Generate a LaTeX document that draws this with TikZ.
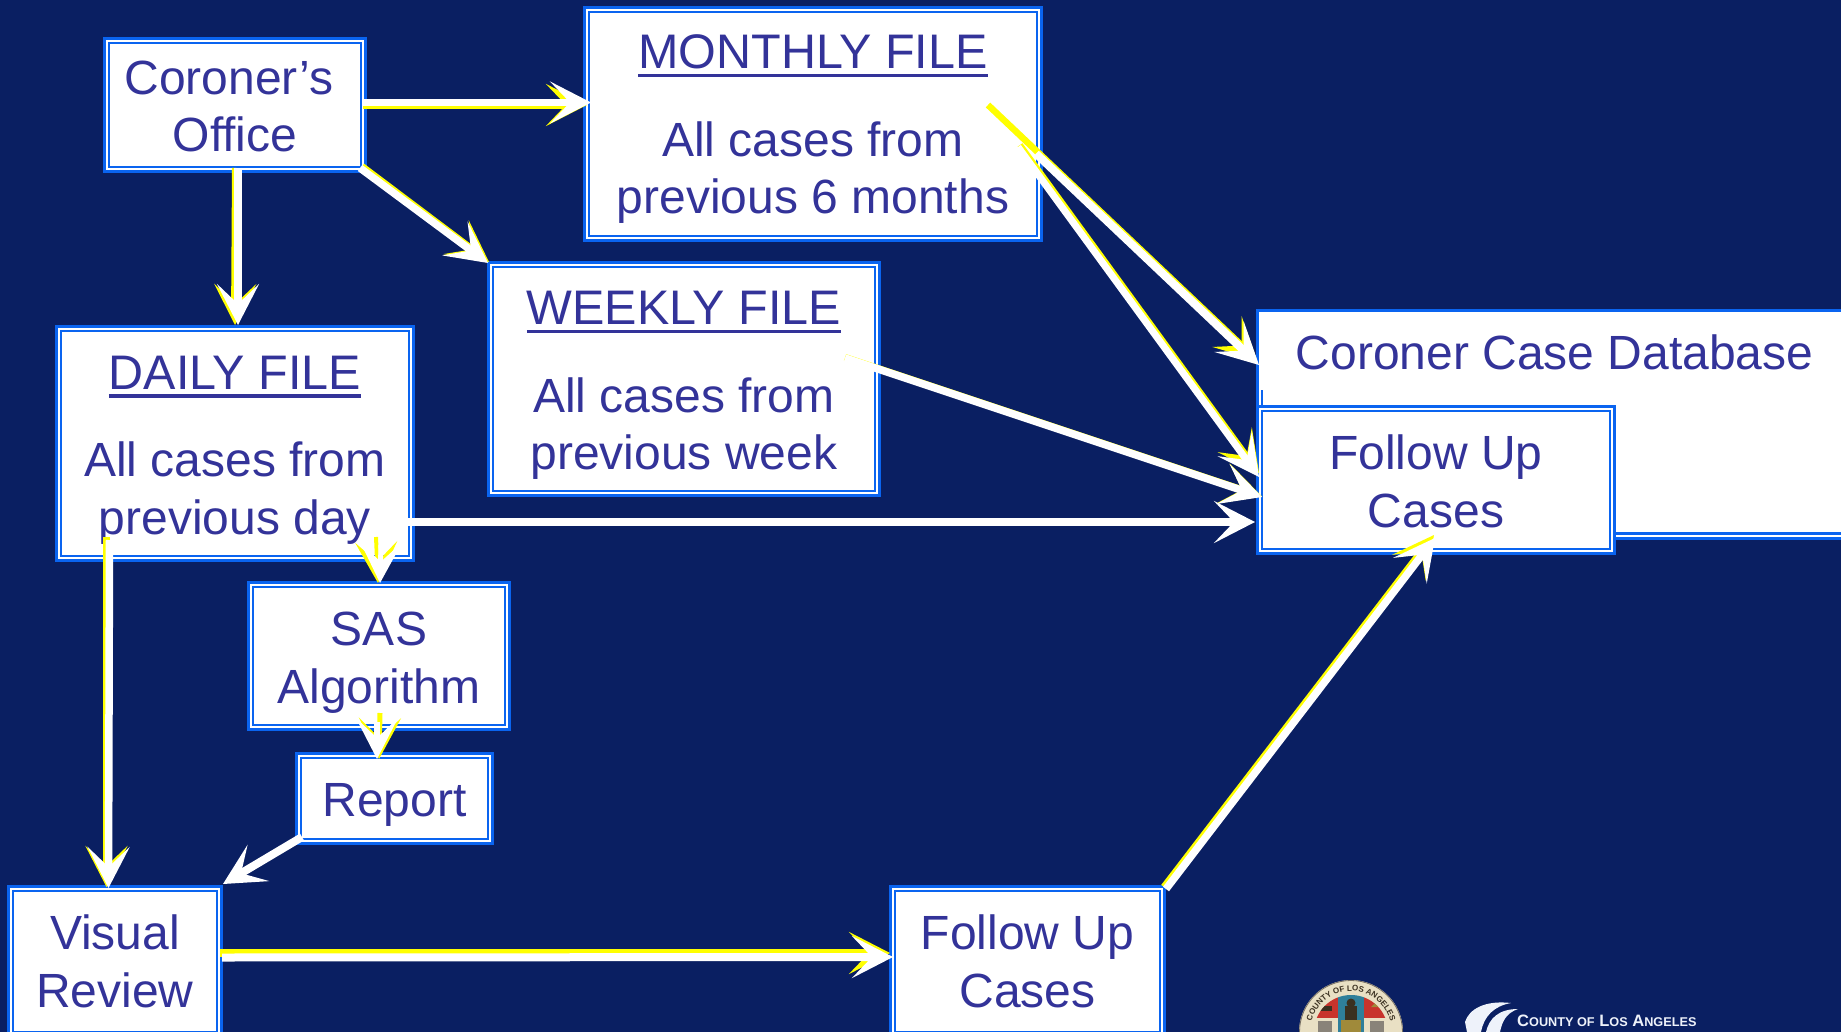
\documentclass[tikz,border=0pt]{standalone}
\usepackage{fontspec}
\setmainfont{Liberation Sans}
\usetikzlibrary{arrows.meta,calc,decorations.text}
\definecolor{bgnavy}{HTML}{0A1F62}
\definecolor{boxblue}{HTML}{0A64F0}
\definecolor{inktext}{HTML}{333399}
\definecolor{ayellow}{HTML}{FFFF00}
\definecolor{sealcream}{HTML}{E9E0C4}
\definecolor{sealred}{HTML}{C8342C}
\definecolor{sealteal}{HTML}{2F7F9A}
\definecolor{sealgold}{HTML}{A08A3A}
\definecolor{sealdark}{HTML}{3A3020}
\definecolor{logowhite}{HTML}{EEF2FA}
\newcommand{\ulbold}[1]{\setbox0\hbox{\fontsize{48.5}{57.5}\selectfont #1}\rlap{\rule[-8.5pt]{\wd0}{3.5pt}}\box0}
\newcommand{\topadj}[1]{\rule{0pt}{#1pt}}
\tikzset{
  x=1pt,y=-1pt,
  boxnode/.style={draw=boxblue,double=white,line width=2.8pt,double distance=1.8pt,fill=white,
    outer sep=0pt,inner sep=0pt,align=center,text=inktext,font=\fontsize{48}{57.5}\selectfont},
  plainbox/.style={draw=boxblue,line width=3pt,fill=white,outer sep=0pt,inner sep=0pt},
  labeltext/.style={text=inktext,inner sep=0pt,font=\fontsize{48}{57.5}\selectfont},
  conn/.style={-{Stealth[length=41pt,width=42pt,inset=20pt]},line width=#1},
  wa/.style={conn=#1,draw=white},
  ya/.style={conn=#1,draw=ayellow},
}
\begin{document}
\begin{tikzpicture}
\useasboundingbox (0,0) rectangle (1841,1032);
\clip (0,0) rectangle (1841,1032);
\fill[bgnavy] (0,0) rectangle (1841,1032);

% Boxes
\node[plainbox,minimum width=621pt,minimum height=228pt] (db) at (1568,424.5) {};
\draw[boxblue,line width=2.5pt] ([yshift=5pt]db.south west) -- ([yshift=5pt]db.south east);
\node[labeltext] (dbtext) at (1554.5,352) {Coroner Case Database};
\draw[boxblue,line width=2pt] ($(db)+(-306,-34.5)$) -- ($(db)+(-306,-19.5)$);
\node[boxnode,minimum width=352.6pt,minimum height=142.6pt] (front) at (1436,480) {\topadj{37.5}Follow Up\\Cases};
\node[boxnode,minimum width=256.6pt,minimum height=128.6pt] (coroner) at (235,105) {\topadj{36.5}Coroner’s\hspace*{12pt}\\Office};
\node[boxnode,minimum width=452.6pt,minimum height=228.6pt] (monthly) at (813,124) {\topadj{44.5}\ulbold{MONTHLY FILE}\\[30pt]All cases from\\previous 6 months};
\node[boxnode,minimum width=386.6pt,minimum height=228.6pt] (weekly) at (684,379) {\topadj{46}\ulbold{WEEKLY FILE}\\[30pt]All cases from\\previous week};
\node[boxnode,minimum width=352.6pt,minimum height=229.6pt] (daily) at (235,443.5) {\topadj{46}\ulbold{DAILY FILE}\\[30pt]All cases from\\previous day};
\node[boxnode,minimum width=256.6pt,minimum height=142.6pt] (sas) at (379,656) {\topadj{46.5}SAS\\Algorithm};
\node[boxnode,minimum width=191.6pt,minimum height=85.6pt] (report) at (394.5,798.5) {\topadj{46.4}Report};
\node[boxnode,minimum width=208.6pt,minimum height=145.6pt] (visual) at (115,961.5) {Visual\\Review};
\node[boxnode,minimum width=269.6pt,minimum height=145.6pt] (lower) at (1027.5,961.5) {Follow Up\\Cases};

% Coroner -> Monthly
\draw[ya=8pt] ($(coroner)+(128,0)$) -- ($(monthly)+(-226,-19)$);
\draw[wa=7pt] ($(coroner)+(128,-2.5)$) -- ($(monthly)+(-222,-21.5)$);
% Coroner -> Daily
\draw[ya=8pt] ($(coroner)+(1,63)$) -- ($(daily)+(0,-118.5)$);
\draw[wa=8pt] ($(coroner)+(3,63)$) -- ($(daily)+(3,-118.5)$);
% Coroner -> Weekly
\draw[ya=7pt] ($(coroner)+(127,61.5)$) -- ($(weekly)+(-195,-117)$);
\draw[wa=7.5pt] ($(coroner)+(125,63)$) -- ($(weekly)+(-196,-116)$);
% Monthly -> Database
\draw[ya=6.5pt] ($(monthly)+(175,-19)$) -- ($(db)+(-311,-64.5)$);
\draw[wa=8pt] ($(monthly)+(223,29.7)$) -- ($(db)+(-309,-59.5)$);
% Monthly -> Follow up
\draw[ya=6pt] ($(monthly)+(207,21)$) -- ($(front)+(-177,-7)$);
\draw[wa=7pt] ($(monthly)+(205,23)$) -- ($(front)+(-177,-3)$);
% Weekly -> Follow up
\draw[ya=7pt] ($(weekly)+(161,-21.5)$) -- ($(front)+(-174,16.5)$);
\draw[wa=7.5pt] ($(weekly)+(161,-21)$) -- ($(front)+(-174,17)$);
% Daily -> Follow up
\draw[wa=8pt] ($(daily)+(172,78.5)$) -- ($(front)+(-181,42)$);
% Daily -> SAS
\draw[ya=4pt] ($(daily)+(141,93.5)$) -- ($(sas)+(-1,-73)$);
\draw[wa=5pt] ($(daily)+(146,101.5)$) -- ($(sas)+(1,-73)$);
% SAS -> Report
\draw[ya=5pt] ($(sas)+(1,57)$) -- ($(report)+(-15.5,-39.5)$);
\draw[wa=6pt] ($(sas)+(-2,66)$) -- ($(report)+(-17.5,-39.5)$);
% Daily -> Visual
\draw[ya=7pt] ($(daily)+(-128.5,93.5)$) -- ($(visual)+(-8.5,-74.5)$);
\draw[wa=7.5pt] ($(daily)+(-125.5,96.5)$) -- ($(visual)+(-6.5,-73.5)$);
% Report -> Visual
\draw[wa=8pt] ($(report)+(-92.5,38.5)$) -- ($(visual)+(108,-77.5)$);
% Visual -> Follow up
\draw[ya=8pt] ($(visual)+(105,-8.5)$) -- ($(lower)+(-137.5,-8.5)$);
\draw[wa=8pt] ($(visual)+(107,-4)$) -- ($(lower)+(-134.5,-4.5)$);
% Follow up -> Follow up
\draw[ya=7pt] ($(lower)+(136.5,-74.5)$) -- ($(front)+(-2,55)$);
\draw[wa=7.5pt] ($(lower)+(138.5,-72.5)$) -- ($(front)+(-1,58)$);

% Seal
\fill[sealcream] (1351,1032) circle (52);
\draw[sealdark!70,line width=0.8pt] (1351,1032) circle (51.5);
\begin{scope}
  \clip (1351,1032) circle (37);
  \fill[sealcream] (1351,1032) circle (37);
  \fill[sealred] (1312,990) rectangle (1338,1018);
  \fill[sealred] (1364,990) rectangle (1392,1018);
  \fill[sealteal] (1338,990) rectangle (1364,1032);
  \fill[sealdark] (1351,1003) circle (4.5);
  \fill[sealdark] (1345,1006) rectangle (1357,1020);
  \fill[sealgold] (1341,1020) rectangle (1361,1032);
  \fill[sealdark] (1318,1006) rectangle (1332,1011);
  \fill[sealgold] (1371,1007) -- (1384,1007) -- (1377,1001) -- cycle;
  \fill[sealdark!60] (1318,1021) rectangle (1332,1032);
  \fill[sealdark!60] (1370,1021) rectangle (1384,1032);
\end{scope}
\path[decorate,decoration={text along path,text align=center,
  text={|\fontsize{8}{9}\selectfont\bfseries\color{sealdark}|COUNTY OF LOS ANGELES}}]
  (1310,1032) arc[start angle=180,end angle=360,radius=41];

% County wordmark
\fill[logowhite] (1467,1032) -- (1465,1022) .. controls (1469,1009) and (1485,1000) .. (1511,1003)
  .. controls (1494,1006) and (1484,1016) .. (1481,1032) -- cycle;
\fill[logowhite] (1486,1032) .. controls (1489,1019) and (1498,1009) .. (1518,1009)
  .. controls (1506,1013) and (1502,1022) .. (1500,1032) -- cycle;
\node[anchor=base west,inner sep=0pt,text=logowhite,font=\fontsize{16.5}{18}\selectfont\bfseries] (county) at (1517,1026)
  {C{\fontsize{12.7}{14}\selectfont OUNTY OF} L{\fontsize{12.7}{14}\selectfont OS} A{\fontsize{12.7}{14}\selectfont NGELES}};
\end{tikzpicture}
\end{document}
